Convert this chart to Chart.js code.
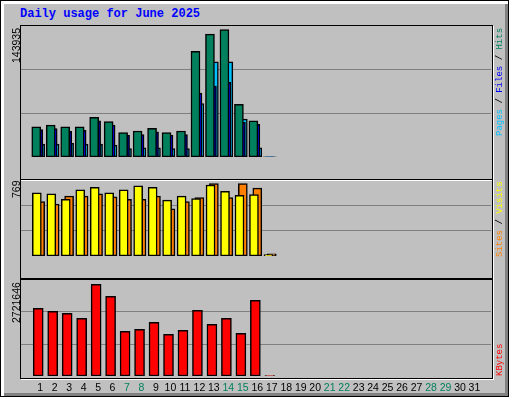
<!DOCTYPE html>
<html>
<head>
<meta charset="utf-8">
<script src="https://cdn.jsdelivr.net/npm/chart.js@4/dist/chart.umd.min.js"></script>
<style>
  body { margin: 0; background: #fff; }
  #frame { position: absolute; left: 0; top: 0; width: 507px; height: 395px; background: #c0c0c0;
    border: 1px solid #000; box-shadow: inset 3px 3px 0 #fff, inset -3px -3px 0 #808080; }
  .title { position: absolute; left: 20px; top: 7px; font: bold 12px "Liberation Mono", monospace; color: #0000ff; }
  .panel { position: absolute; left: 20px; width: 471px; border: 1px solid #000; box-shadow: 1px 1px 0 #fff; pointer-events: none; }
  canvas { position: absolute; }
  .lab { position: absolute; transform-origin: 0 0; transform: rotate(-90deg); white-space: nowrap; }
  .left { font: 10.5px "Liberation Sans", sans-serif; color: #000; }
  .right { font: 9px "Liberation Mono", monospace; }
</style>
</head>
<body>
<div id="frame"></div>
<div class="title">Daily usage for June 2025</div>

<div style="position:absolute;left:21px;top:26px;width:470px;height:151px"><canvas id="c1"></canvas></div>
<div style="position:absolute;left:21px;top:180px;width:470px;height:96px"><canvas id="c2"></canvas></div>
<div style="position:absolute;left:21px;top:280px;width:470px;height:116px"><canvas id="c3"></canvas></div>

<div class="panel" style="top:25px;height:153px"></div>
<div class="panel" style="top:179px;height:98px"></div>
<div class="panel" style="top:279px;height:98px"></div>

<div class="lab left" style="left:10px;top:63px">143935</div>
<div class="lab left" style="left:10px;top:198px">769</div>
<div class="lab left" style="left:10px;top:323px">2721646</div>

<div class="lab right" style="left:495px;top:136px"><span style="color:#00c0ff">Pages</span> / <span style="color:#0000ff">Files</span> / <span style="color:#00805c">Hits</span></div>
<div class="lab right" style="left:495px;top:257px"><span style="color:#ff8000">Sites</span> / <span style="color:#ffff00">Visits</span></div>
<div class="lab right" style="left:495px;top:376px"><span style="color:#ff0000">KBytes</span></div>

<script>
const days = Array.from({length: 31}, (_, i) => i + 1);
const weekend = [7, 8, 14, 15, 21, 22, 28, 29];

const hits   = [33100, 35000, 33100, 33100, 43600, 38800, 26700, 28600, 31500, 26700, 28600, 116000, 135000, 140000, 57900, 39800, 300];
const files  = [30200, 31200, 28300, 29300, 39800, 35200, 23700, 24700, 27600, 23700, 24700, 70300, 78000, 82000, 38100, 35900, 150];
const pages  = [14200, 14200, 15000, 14200, 14200, 13100, 9300, 10200, 10200, 9300, 9300, 58800, 104600, 104600, 41700, 10200, 80];
const visits = [638, 630, 574, 670, 694, 638, 670, 710, 694, 566, 606, 582, 718, 654, 614, 622, 14];
const sites  = [550, 526, 606, 606, 630, 598, 574, 574, 606, 478, 550, 590, 734, 590, 734, 686, 22];
const kbytes = [1919000, 1834000, 1777000, 1636000, 2600000, 2260000, 1267000, 1324000, 1522000, 1182000, 1296000, 1863000, 1466000, 1636000, 1210000, 2146000, 10000];

const maxHits = 143935, maxVisits = 769, maxKB = 2721646;

const pts = (arr, off) => arr.map((v, i) => ({x: days[i] + off, y: v}));

function ds(arr, off, color) {
  return { data: pts(arr, off), backgroundColor: color, borderColor: '#000', borderWidth: 1.5,
           barThickness: 9, borderSkipped: false, grouped: false };
}

function opts(max, showX) {
  return {
    responsive: true, maintainAspectRatio: false, animation: false,
    layout: { padding: 0 },
    plugins: { legend: { display: false }, tooltip: { enabled: false } },
    scales: {
      x: { type: 'linear', min: 0.2, max: 31.62, display: showX,
           afterBuildTicks: axis => { axis.ticks = days.map(d => ({value: d})); },
           afterFit: s => { s.paddingLeft = 0; s.paddingRight = 0; s.height = 20; },
           grid: { display: false, drawTicks: false }, border: { display: false },
           ticks: { padding: 6, autoSkip: false, maxRotation: 0, minRotation: 0,
                    font: { size: 10.5, family: 'Liberation Sans' },
                    color: c => weekend.includes(c.tick.value) ? '#00805c' : '#000' } },
      y: { min: 0, max: max, afterBuildTicks: axis => { axis.ticks = [max / 3, max * 2 / 3].map(v => ({value: v})); },
           ticks: { display: false }, border: { display: false },
           grid: { color: '#808080', lineWidth: 1, drawTicks: false } }
    }
  };
}

new Chart(document.getElementById('c1'), {
  type: 'bar',
  data: { datasets: [ds(hits, -0.27, '#00805c'), ds(files, -0.134, '#0000ff'), ds(pages, 0, '#00c0ff')] },
  options: opts(maxHits, false)
});
new Chart(document.getElementById('c2'), {
  type: 'bar',
  data: { datasets: [ds(visits, -0.23, '#ffff00'), ds(sites, 0, '#ff8000')] },
  options: opts(maxVisits, false)
});
new Chart(document.getElementById('c3'), {
  type: 'bar',
  data: { datasets: [Object.assign(ds(kbytes, -0.134, '#ff0000'), { barThickness: 10 })] },
  options: opts(maxKB, true)
});
</script>
</body>
</html>
